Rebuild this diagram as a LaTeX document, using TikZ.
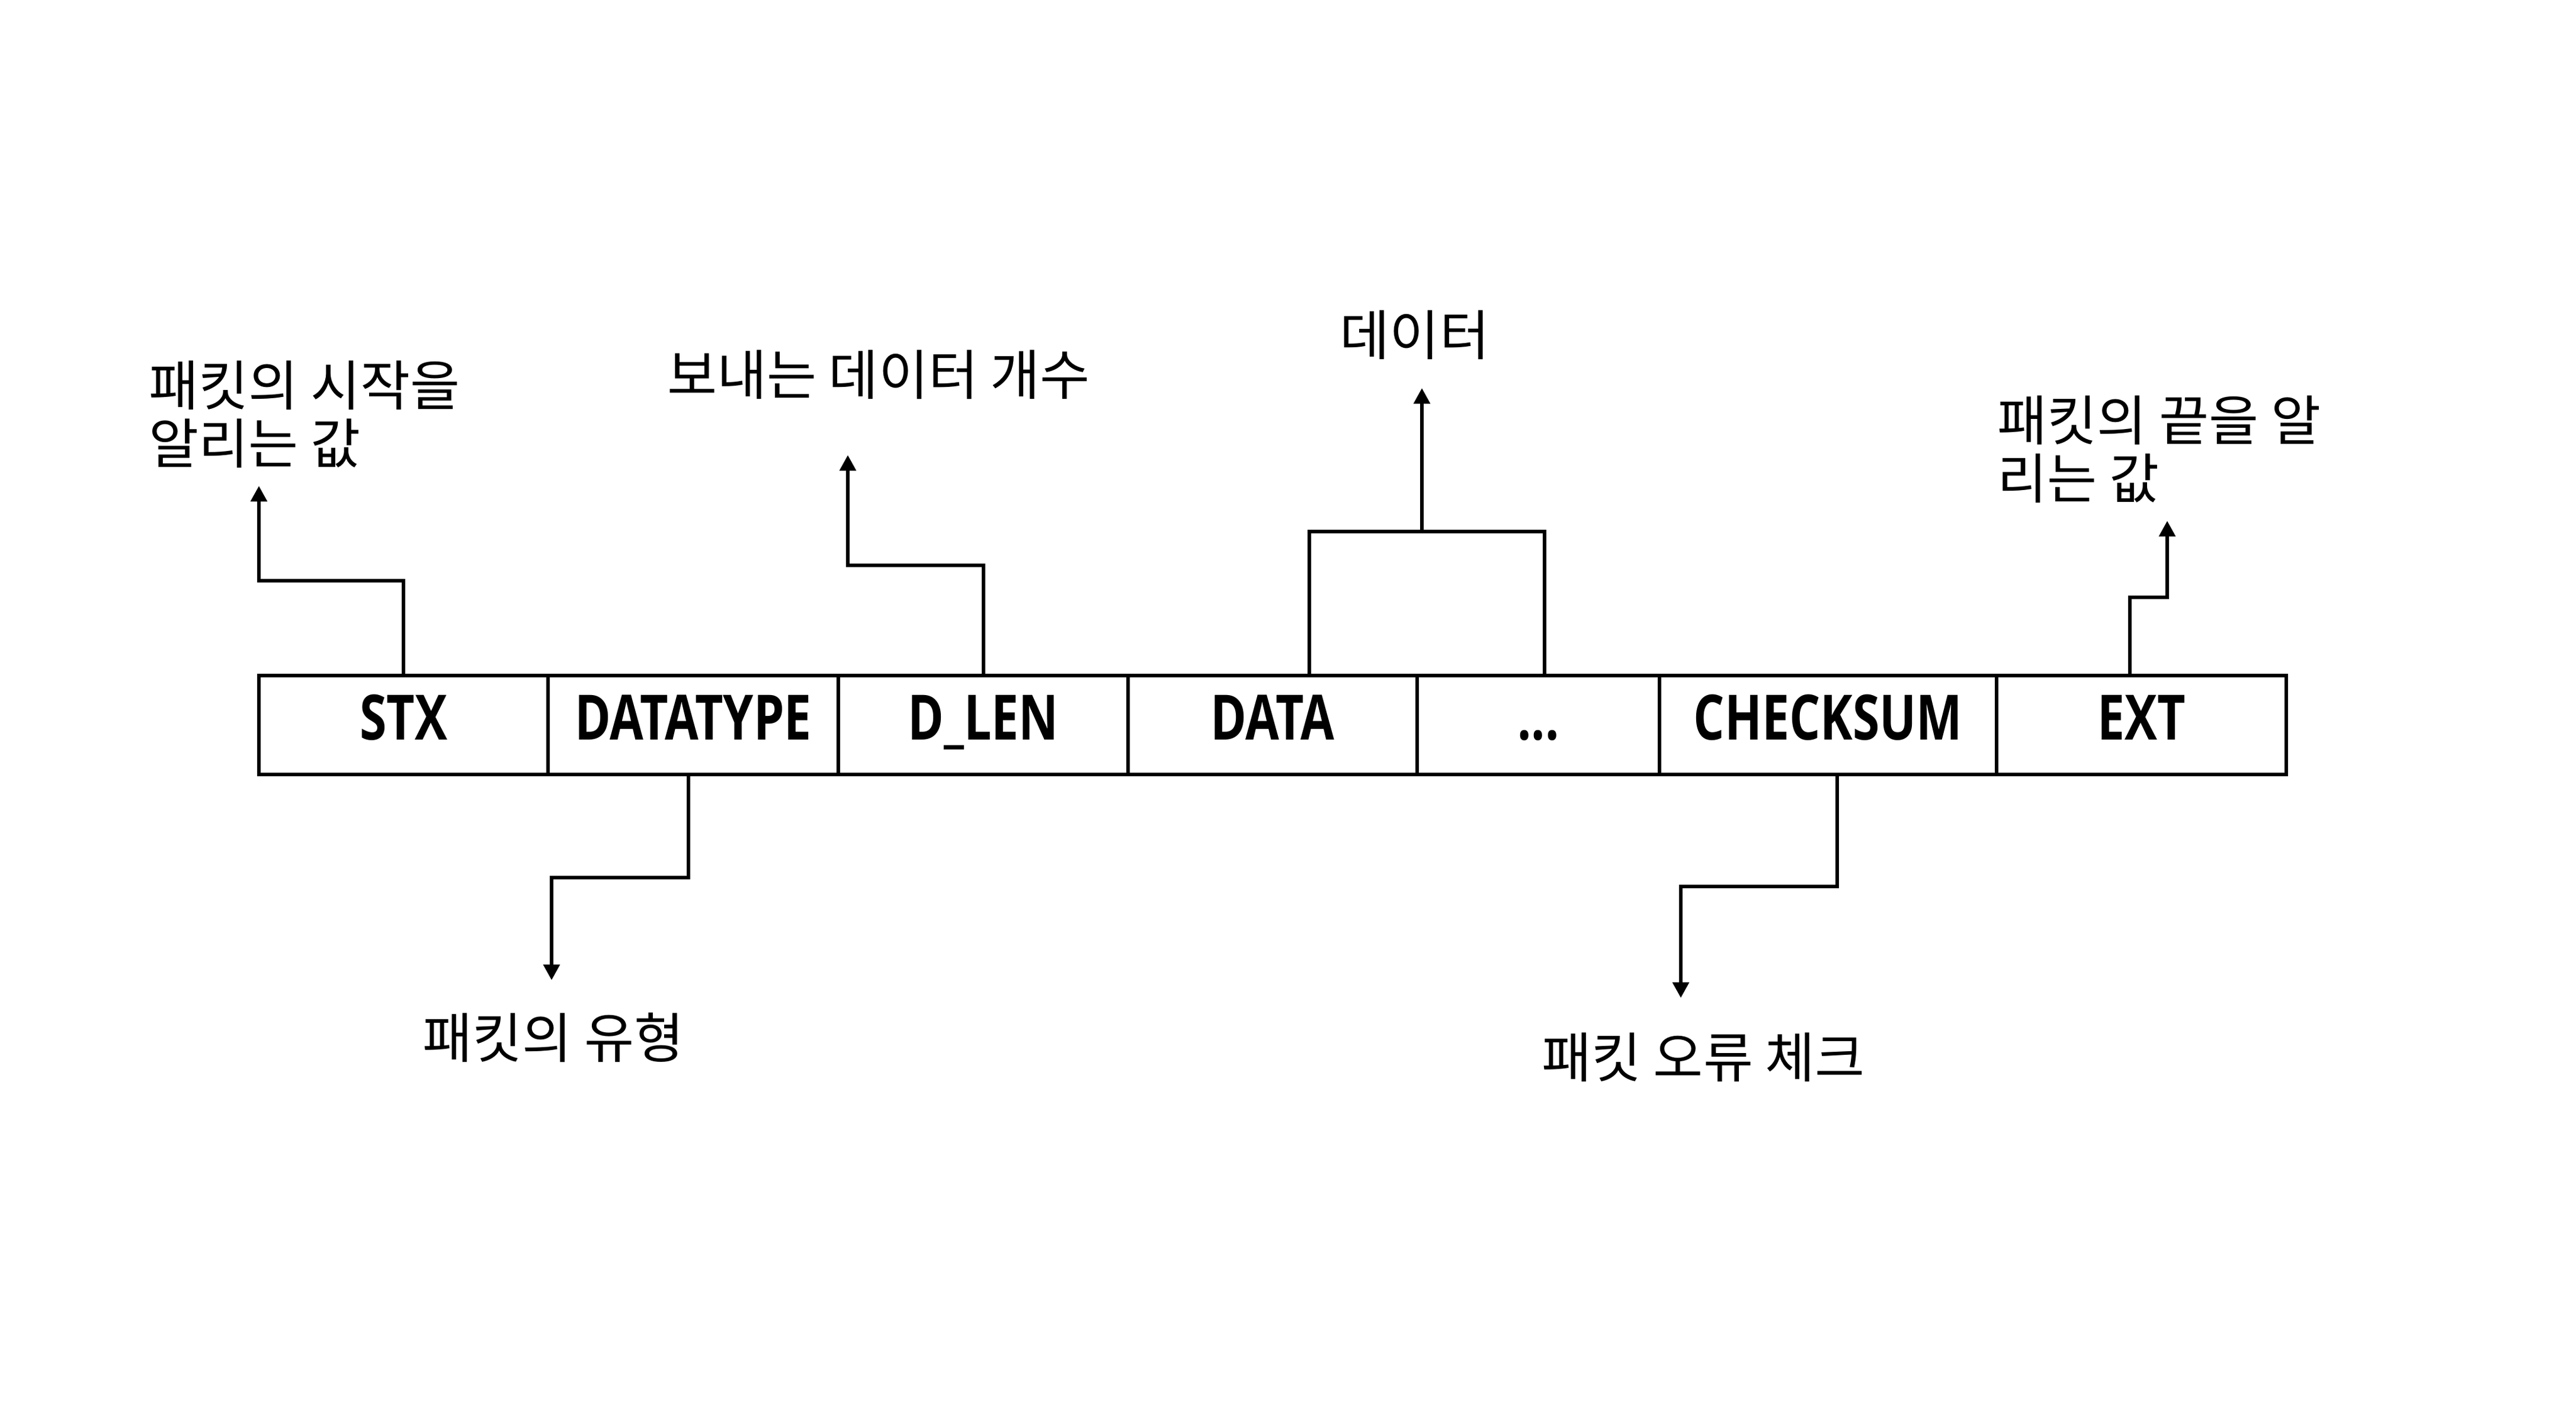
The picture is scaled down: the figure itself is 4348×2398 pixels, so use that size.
\documentclass[tikz,border=0pt]{standalone}
\usepackage{fontspec}
\usetikzlibrary{arrows.meta}
\newfontfamily\krfont{Noto Sans CJK KR}
\newfontfamily\lbfont[FakeStretch=0.78]{Open Sans}
\tikzset{
  cell/.style={draw, line width=1.7pt, inner sep=0pt, minimum height=1.67cm,
    font=\lbfont\bfseries\fontsize{30pt}{36pt}\selectfont,
    text height=17pt, text depth=3pt},
  conn/.style={line width=1.7pt},
  arr/.style={line width=1.7pt, -{Triangle[length=7.5pt,width=7.7pt]}},
  lab/.style={inner sep=0pt, font=\krfont\fontsize{26pt}{27.9pt}\selectfont},
}
\begin{document}
\begin{tikzpicture}[x=0.01cm, y=-0.01cm]
\useasboundingbox (0,0) rectangle (4348,2398);
% cells
\node[cell, minimum width=4.88cm] (stx)   at (681,1223.5)  {STX};
\node[cell, minimum width=4.90cm] (dtype) at (1170,1223.5) {DATATYPE};
\node[cell, minimum width=4.89cm] (dlen)  at (1659.5,1223.5) {D\_LEN};
\node[cell, minimum width=4.88cm] (data)  at (2148,1223.5) {DATA};
\node[cell, minimum width=4.09cm] (dots)  at (2596.5,1223.5) {...};
\node[cell, minimum width=5.69cm] (chk)   at (3085.5,1223.5) {CHECKSUM};
\node[cell, minimum width=4.89cm] (ext)   at (3614.5,1223.5) {EXT};
% labels (base anchor of a two-line node = baseline of its last line)
\node[lab, anchor=base west, align=left] (lstx) at (251,783) {패킷의 시작을\\알리는 값};
\node[lab, anchor=base] (ldlen) at (1483,667) {보내는 데이터 개수};
\node[lab, anchor=base] (ldata) at (2388,600) {데이터};
\node[lab, anchor=base west, align=left] (lext) at (3371,842) {패킷의 끝을 알\\리는 값};
\node[lab, anchor=base] (ldtype) at (934,1785) {패킷의 유형};
\node[lab, anchor=base] (lchk) at (2875,1818) {패킷 오류 체크};
% arrow tips
\coordinate (tstx) at (437,820);
\coordinate (tdtype) at (931,1654);
\coordinate (tdlen) at (1431,768);
\coordinate (tdata) at (2400,655);
\coordinate (tchk) at (2837,1684);
\coordinate (text) at (3658,879);
\coordinate (bmid) at (2400,897);
% connectors
\draw[arr] (stx.north) -- (stx.north |- 0,980) -| (tstx);
\draw[arr] ([xshift=-0.08cm]dtype.south) -- ([xshift=-0.08cm]dtype.south |- 0,1481) -| (tdtype);
\draw[arr] (dlen.north) -- (dlen.north |- 0,954) -| (tdlen);
\draw[conn] ([xshift=0.62cm]data.north) -- ([xshift=0.62cm]data.north |- bmid) -- ([xshift=0.1cm]dots.north |- bmid) -- ([xshift=0.1cm]dots.north);
\draw[arr] (bmid) -- (tdata);
\draw[arr] ([xshift=0.15cm]chk.south) -- ([xshift=0.15cm]chk.south |- 0,1496) -| (tchk);
\draw[arr] ([xshift=-0.2cm]ext.north) -- ([xshift=-0.2cm]ext.north |- 0,1008) -| (text);
\end{tikzpicture}
\end{document}
